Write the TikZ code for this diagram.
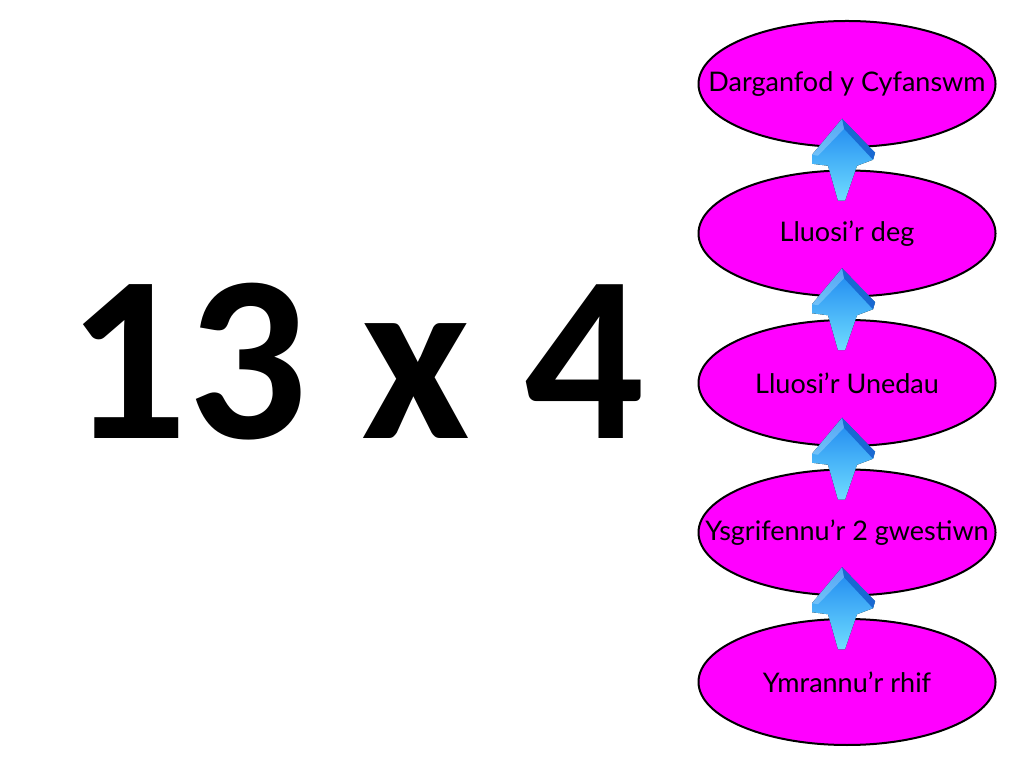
\documentclass[tikz,border=0pt]{standalone}
\usepackage{fontspec}
\setmainfont{Carlito}
\newfontfamily\stagefont{Lato}
\usetikzlibrary{positioning, calc, shapes.geometric}

\begin{document}
\begin{tikzpicture}[
    x=1pt, y=1pt,
    node distance=21.5pt,
    stage/.style={
        ellipse,
        draw=black,
        line width=2pt,
        fill={rgb,255:red,255;green,0;blue,255},
        minimum width=297pt,
        minimum height=126pt,
        inner xsep=-60pt,
        inner ysep=0pt,
        font=\stagefont\fontsize{27}{30}\selectfont,
    },
    sum/.style={
        font=\bfseries\fontsize{237}{240}\selectfont,
        anchor=base,
        inner sep=0pt,
    },
    liftarrow/.style={
        top color={rgb,255:red,30;green,135;blue,240},
        bottom color={rgb,255:red,110;green,220;blue,255},
        draw=none,
    },
    bevel/.style={
        fill={rgb,255:red,25;green,105;blue,210},
        draw=none,
    }
]
    \useasboundingbox[fill=white] (0,0) rectangle (1024,768);

    % Sum
    \node[sum] (sum) at (356,329) {13 x 4};

    % Stages
    \node[stage] (s1) at (847,86) {Ymrannu’r rhif};
    \node[stage, above=of s1] (s2) {Ysgrifennu’r 2 gwestiwn};
    \node[stage, above=of s2] (s3) {Lluosi’r Unedau};
    \node[stage, above=of s3] (s4) {Lluosi’r deg};
    \node[stage, above=of s4] (s5) {Darganfod y Cyfanswm};

    % Arrows
    \foreach \lo/\hi in {s1/s2, s2/s3, s3/s4, s4/s5} {
        \begin{scope}[shift={($(\lo)!0.5!(\hi)$)}, xshift=-5pt]
            \fill[liftarrow] (0,40) -- (33,6) -- (31,-1) -- (15,-7) -- (3,-42)
                -- (-4,-42) -- (-14,-7) -- (-30,-5) -- (-30,4) -- cycle;
            \fill[bevel] (0,40) -- (33,6) -- (31,-1) -- (2,30) -- cycle;
            \fill[white, opacity=0.25] (0,40) -- (2,30) -- (-24,3) -- (-30,4) -- cycle;
        \end{scope}
    }
\end{tikzpicture}
\end{document}
